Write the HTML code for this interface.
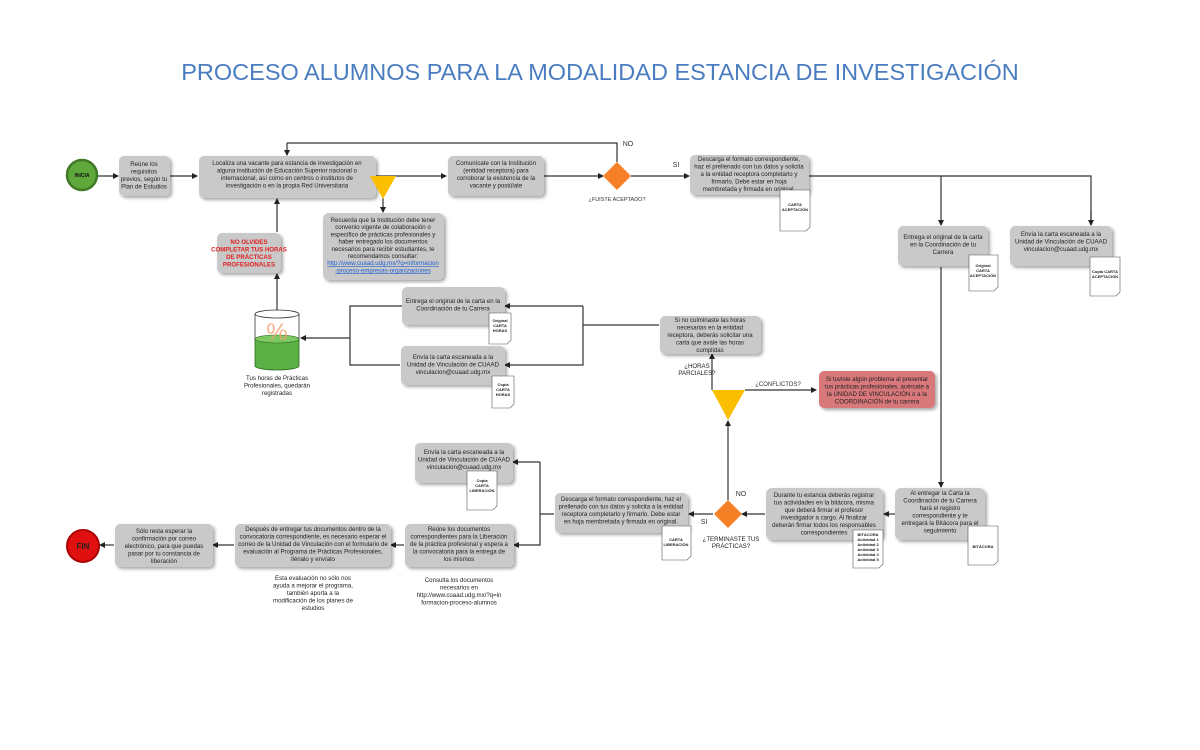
<!DOCTYPE html>
<html><head><meta charset="utf-8"><style>
html,body{margin:0;padding:0;background:#fff;}
svg{display:block;font-family:"Liberation Sans",sans-serif;}
.b{fill:#c9c9c9;filter:url(#sh);}
.t{font-size:6.1px;fill:#222;text-anchor:middle;}
.l{stroke:#333;stroke-width:1.2;fill:none;}
.a{stroke:#333;stroke-width:1.2;fill:none;marker-end:url(#ar);}
.d{fill:#fff;stroke:#555;stroke-width:0.6;}
.dt{font-size:4px;font-weight:bold;fill:#222;text-anchor:middle;}
</style></head><body>
<svg width="1200" height="750" viewBox="0 0 1200 750">
<defs>
<marker id="ar" markerWidth="6" markerHeight="6" refX="5" refY="3" orient="auto" markerUnits="userSpaceOnUse"><path d="M0,0 L6,3 L0,6 z" fill="#222"/></marker>
<filter id="sh" x="-10%" y="-10%" width="130%" height="140%"><feDropShadow dx="2" dy="2" stdDeviation="1.5" flood-color="#000" flood-opacity="0.35"/></filter>
</defs>
<text x="600" y="80" text-anchor="middle" font-size="23.5" fill="#4a7cc0">PROCESO ALUMNOS PARA LA MODALIDAD ESTANCIA DE INVESTIGACIÓN</text>

<!-- lines -->
<path class="a" d="M98,176 H118"/>
<path class="a" d="M170,176 H197"/>
<path class="l" d="M376,176 H396"/>
<path class="a" d="M396,176 H446"/>
<path class="a" d="M383,198 V212"/>
<path class="a" d="M544,176 H603"/>
<path class="l" d="M617,162 V143 H287"/>
<path class="a" d="M287,143 V155"/>
<path class="a" d="M631,176 H689"/>
<path class="l" d="M809,176 H1091 V225"/>
<path class="a" d="M1091,210 V225"/>
<path class="a" d="M941,176 V225"/>
<path class="a" d="M941,267 V487"/>
<path class="a" d="M895,514 H884"/>
<path class="a" d="M765,514 H742"/>
<path class="a" d="M713,514 H689"/>
<path class="a" d="M728,500 V421"/>
<path class="a" d="M712,390 V354"/>
<path class="a" d="M745,390 H816"/>
<path class="l" d="M659,325 H583 V306"/>
<path class="a" d="M583,306 H505"/>
<path class="a" d="M583,325 V365 H505"/>
<path class="l" d="M402,306 H350 V365 H400"/>
<path class="a" d="M350,338 H301"/>
<path class="a" d="M277,310 V274"/>
<path class="a" d="M277,232 V199"/>
<path class="l" d="M554,514 H540 V462"/>
<path class="a" d="M540,462 H513"/>
<path class="a" d="M540,514 V545 H514"/>
<path class="a" d="M404,545 H391"/>
<path class="a" d="M234,545 H213"/>
<path class="a" d="M114,545 H100"/>

<!-- start / end -->
<circle cx="82" cy="175" r="15" fill="#5fa83c" stroke="#3f7a25" stroke-width="2.5"/>
<text x="82" y="177" font-size="5" font-weight="bold" text-anchor="middle" fill="#111">INICIA</text>
<circle cx="83" cy="546" r="16" fill="#e01010" stroke="#a00" stroke-width="2"/>
<text x="83" y="549" font-size="8" font-weight="bold" text-anchor="middle" fill="#222">FIN</text>

<!-- boxes -->
<rect class="b" x="119" y="156" width="51" height="40" rx="5"/>
<text class="t" y="166"><tspan x="144">Reúne los</tspan><tspan x="144" dy="7.5">requisitos</tspan><tspan x="144" dy="7.5">previos, según tu</tspan><tspan x="144" dy="7.5">Plan de Estudios</tspan></text>

<rect class="b" x="199" y="156" width="177" height="42" rx="5"/>
<text class="t" y="165"><tspan x="287">Localiza una vacante para estancia de investigación en</tspan><tspan x="287" dy="7.5">alguna institución de Educación Superior nacional o</tspan><tspan x="287" dy="7.5">internacional, así como en centros o institutos de</tspan><tspan x="287" dy="7.5">investigación o en la propia Red Universitaria</tspan></text>

<polygon points="370,176 396,176 383,199" fill="#fbbf00"/>

<rect class="b" x="448" y="156" width="96" height="40" rx="5"/>
<text class="t" y="165"><tspan x="496">Comunícate con la Institución</tspan><tspan x="496" dy="7.5">(entidad receptora) para</tspan><tspan x="496" dy="7.5">corroborar la existencia de la</tspan><tspan x="496" dy="7.5">vacante y postúlate</tspan></text>

<polygon points="617,162 631,176 617,190 603,176" fill="#f58025"/>
<text x="617" y="201" font-size="5.5" text-anchor="middle" fill="#333">¿FUISTE ACEPTADO?</text>
<text x="628" y="146" font-size="7" text-anchor="middle" fill="#333">NO</text>
<text x="676" y="167" font-size="7" text-anchor="middle" fill="#333">SI</text>

<rect class="b" x="690" y="155" width="119" height="40" rx="5"/>
<text class="t" y="161"><tspan x="749">Descarga el formato correspondiente,</tspan><tspan x="749" dy="7.5">haz el prellenado con tus datos y solicita</tspan><tspan x="749" dy="7.5">a la entidad receptora completarlo y</tspan><tspan x="749" dy="7.5">firmarlo. Debe estar en hoja</tspan><tspan x="749" dy="7.5">membretada y firmada en original.</tspan></text>
<path class="d" d="M780,190 H810 V227 L806,231 H780 Z"/>
<text class="dt" y="206"><tspan x="795">CARTA</tspan><tspan x="795" dy="5">ACEPTACIÓN</tspan></text>

<rect class="b" x="323" y="213" width="121" height="67" rx="6"/>
<text class="t" y="222"><tspan x="383">Recuerda que la Institución debe tener</tspan><tspan x="383" dy="7.2">convenio vigente de colaboración o</tspan><tspan x="383" dy="7.2">específico de prácticas profesionales y</tspan><tspan x="383" dy="7.2">haber entregado los documentos</tspan><tspan x="383" dy="7.2">necesarios para recibir estudiantes, te</tspan><tspan x="383" dy="7.2">recomendamos consultar:</tspan><tspan x="383" dy="7.2" fill="#1f5fd0" text-decoration="underline">http://www.cuaad.udg.mx/?q=informacion</tspan><tspan x="383" dy="7.2" fill="#1f5fd0" text-decoration="underline">-proceso-empresas-organizaciones</tspan></text>

<rect class="b" x="217" y="233" width="64" height="40" rx="5"/>
<text class="t" y="244" font-weight="bold" style="fill:#e02020"><tspan x="249">NO OLVIDES</tspan><tspan x="249" dy="7.5">COMPLETAR TUS HORAS</tspan><tspan x="249" dy="7.5">DE PRÁCTICAS</tspan><tspan x="249" dy="7.5">PROFESIONALES</tspan></text>

<!-- cylinder -->
<path d="M255,339 V366 A22,4 0 0 0 299,366 V339 Z" fill="#5bb046" stroke="#2d6a20" stroke-width="0.8"/>
<ellipse cx="277" cy="339" rx="22" ry="4" fill="#7cc862" stroke="#2d6a20" stroke-width="0.6"/>
<path d="M255,314 V339 M299,314 V339" stroke="#333" stroke-width="0.8"/>
<ellipse cx="277" cy="314" rx="22" ry="4" fill="#fff" stroke="#333" stroke-width="0.8"/>
<text x="277" y="340" font-size="24" text-anchor="middle" fill="#f4a070" opacity="0.8">%</text>
<text class="t" y="380"><tspan x="277">Tus horas de Prácticas</tspan><tspan x="277" dy="7.5">Profesionales, quedarán</tspan><tspan x="277" dy="7.5">registradas</tspan></text>

<rect class="b" x="402" y="287" width="103" height="38" rx="5"/>
<text class="t" y="303"><tspan x="453">Entrega el original de la carta en la</tspan><tspan x="453" dy="7.5">Coordinación de tu Carrera</tspan></text>
<path class="d" d="M489,313 H511 V340 L507,344 H489 Z"/>
<text class="dt" y="322"><tspan x="500">Original</tspan><tspan x="500" dy="5">CARTA</tspan><tspan x="500" dy="5">HORAS</tspan></text>

<rect class="b" x="401" y="346" width="104" height="39" rx="5"/>
<text class="t" y="359"><tspan x="453">Envía la carta escaneada a la</tspan><tspan x="453" dy="7.5">Unidad de Vinculación de CUAAD</tspan><tspan x="453" dy="7.5">vinculacion@cuaad.udg.mx</tspan></text>
<path class="d" d="M492,376 H514 V404 L510,408 H492 Z"/>
<text class="dt" y="386"><tspan x="503">Copia</tspan><tspan x="503" dy="5">CARTA</tspan><tspan x="503" dy="5">HORAS</tspan></text>

<rect class="b" x="660" y="316" width="101" height="38" rx="5"/>
<text class="t" y="322"><tspan x="710">Si no culminaste las horas</tspan><tspan x="710" dy="7.5">necesarias en la entidad</tspan><tspan x="710" dy="7.5">receptora, deberás solicitar una</tspan><tspan x="710" dy="7.5">carta que avale las horas</tspan><tspan x="710" dy="7.5">cumplidas</tspan></text>
<text class="t" y="368"><tspan x="697">¿HORAS</tspan><tspan x="697" dy="7">PARCIALES?</tspan></text>
<polygon points="712,390 745,390 728,420" fill="#fbbf00"/>
<text x="778" y="386" font-size="6" text-anchor="middle" fill="#333">¿CONFLICTOS?</text>
<rect x="819" y="371" width="116" height="37" rx="5" fill="#d9787a" filter="url(#sh)"/>
<text class="t" y="381"><tspan x="877">Si tuviste algún problema al presentar</tspan><tspan x="877" dy="7.5">tus prácticas profesionales, acércate a</tspan><tspan x="877" dy="7.5">la UNIDAD DE VINCULACIÓN o a la</tspan><tspan x="877" dy="7.5">COORDINACIÓN de tu carrera</tspan></text>

<rect class="b" x="898" y="226" width="90" height="40" rx="5"/>
<text class="t" y="239"><tspan x="943">Entrega el original de la carta</tspan><tspan x="943" dy="7.5">en la Coordinación de tu</tspan><tspan x="943" dy="7.5">Carrera</tspan></text>
<path class="d" d="M969,255 H998 V287 L994,291 H969 Z"/>
<text class="dt" y="267"><tspan x="983">Original</tspan><tspan x="983" dy="5">CARTA</tspan><tspan x="983" dy="5">ACEPTACIÓN</tspan></text>

<rect class="b" x="1010" y="226" width="102" height="40" rx="5"/>
<text class="t" y="236"><tspan x="1061">Envía la carta escaneada a la</tspan><tspan x="1061" dy="7.5">Unidad de Vinculación de CUAAD</tspan><tspan x="1061" dy="7.5">vinculacion@cuaad.udg.mx</tspan></text>
<path class="d" d="M1090,257 H1120 V292 L1116,296 H1090 Z"/>
<text class="dt" y="273"><tspan x="1105">Copia CARTA</tspan><tspan x="1105" dy="5">ACEPTACIÓN</tspan></text>

<rect class="b" x="895" y="488" width="90" height="52" rx="6"/>
<text class="t" y="495"><tspan x="940">Al entregar la Carta la</tspan><tspan x="940" dy="7.5">Coordinación de tu Carrera</tspan><tspan x="940" dy="7.5">hará el registro</tspan><tspan x="940" dy="7.5">correspondiente y te</tspan><tspan x="940" dy="7.5">entregará la Bitácora para el</tspan><tspan x="940" dy="7.5">seguimiento</tspan></text>
<path class="d" d="M968,526 H998 V561 L994,565 H968 Z"/>
<text class="dt" x="983" y="548">BITÁCORA</text>

<rect class="b" x="766" y="488" width="117" height="52" rx="6"/>
<text class="t" y="497"><tspan x="824">Durante tu estancia deberás registrar</tspan><tspan x="824" dy="7.5">tus actividades en la bitácora, misma</tspan><tspan x="824" dy="7.5">que deberá firmar el profesor</tspan><tspan x="824" dy="7.5">investigador a cargo. Al finalizar</tspan><tspan x="824" dy="7.5">deberán firmar todos los responsables</tspan><tspan x="824" dy="7.5">correspondientes</tspan></text>
<path class="d" d="M853,530 H883 V564 L879,568 H853 Z"/>
<text class="dt" y="536"><tspan x="868">BITÁCORA</tspan><tspan x="868" dy="5">Actividad 1</tspan><tspan x="868" dy="5">Actividad 2</tspan><tspan x="868" dy="5">Actividad 3</tspan><tspan x="868" dy="5">Actividad 4</tspan><tspan x="868" dy="5">Actividad 5</tspan></text>

<polygon points="728,500 742,514 728,528 714,514" fill="#f58025"/>
<text x="741" y="496" font-size="7" text-anchor="middle" fill="#333">NO</text>
<text x="704" y="524" font-size="7" text-anchor="middle" fill="#333">SI</text>
<text class="t" y="541"><tspan x="731">¿TERMINASTE TUS</tspan><tspan x="731" dy="7">PRÁCTICAS?</tspan></text>

<rect class="b" x="555" y="493" width="133" height="40" rx="5"/>
<text class="t" y="501"><tspan x="621">Descarga el formato correspondiente, haz el</tspan><tspan x="621" dy="7.5">prellenado con tus datos y solicita a la entidad</tspan><tspan x="621" dy="7.5">receptora completarlo y firmarlo. Debe estar</tspan><tspan x="621" dy="7.5">en hoja membretada y firmada en original.</tspan></text>
<path class="d" d="M662,526 H691 V556 L687,560 H662 Z"/>
<text class="dt" y="541"><tspan x="676">CARTA</tspan><tspan x="676" dy="5">LIBERACIÓN</tspan></text>

<rect class="b" x="415" y="443" width="98" height="40" rx="5"/>
<text class="t" y="454"><tspan x="464">Envía la carta escaneada a la</tspan><tspan x="464" dy="7.5">Unidad de Vinculación de CUAAD</tspan><tspan x="464" dy="7.5">vinculacion@cuaad.udg.mx</tspan></text>
<path class="d" d="M467,471 H497 V506 L493,510 H467 Z"/>
<text class="dt" y="482"><tspan x="482">Copia</tspan><tspan x="482" dy="5">CARTA</tspan><tspan x="482" dy="5">LIBERACIÓN</tspan></text>

<rect class="b" x="405" y="524" width="109" height="43" rx="5"/>
<text class="t" y="531"><tspan x="459">Reúne los documentos</tspan><tspan x="459" dy="7.5">correspondientes para la Liberación</tspan><tspan x="459" dy="7.5">de la práctica profesional y espera a</tspan><tspan x="459" dy="7.5">la convocatoria para la entrega de</tspan><tspan x="459" dy="7.5">los mismos</tspan></text>
<text class="t" y="582"><tspan x="459">Consulta los documentos</tspan><tspan x="459" dy="7.5">necesarios en</tspan><tspan x="459" dy="7.5">http://www.cuaad.udg.mx/?q=in</tspan><tspan x="459" dy="7.5">formacion-proceso-alumnos</tspan></text>

<rect class="b" x="235" y="524" width="156" height="43" rx="5"/>
<text class="t" y="531"><tspan x="313">Después de entregar tus documentos dentro de la</tspan><tspan x="313" dy="7.5">convocatoria correspondiente, es necesario esperar el</tspan><tspan x="313" dy="7.5">correo de la Unidad de Vinculación con el formulario de</tspan><tspan x="313" dy="7.5">evaluación al Programa de Prácticas Profesionales,</tspan><tspan x="313" dy="7.5">llénalo y envíalo</tspan></text>
<text class="t" y="580"><tspan x="313">Esta evaluación no sólo nos</tspan><tspan x="313" dy="7.5">ayuda a mejorar el programa,</tspan><tspan x="313" dy="7.5">también aporta a la</tspan><tspan x="313" dy="7.5">modificación de los planes de</tspan><tspan x="313" dy="7.5">estudios</tspan></text>

<rect class="b" x="115" y="524" width="98" height="43" rx="5"/>
<text class="t" y="533"><tspan x="164">Sólo resta esperar la</tspan><tspan x="164" dy="7.5">confirmación por correo</tspan><tspan x="164" dy="7.5">electrónico, para que puedas</tspan><tspan x="164" dy="7.5">pasar por tu constancia de</tspan><tspan x="164" dy="7.5">liberación</tspan></text>
</svg>
</body></html>
